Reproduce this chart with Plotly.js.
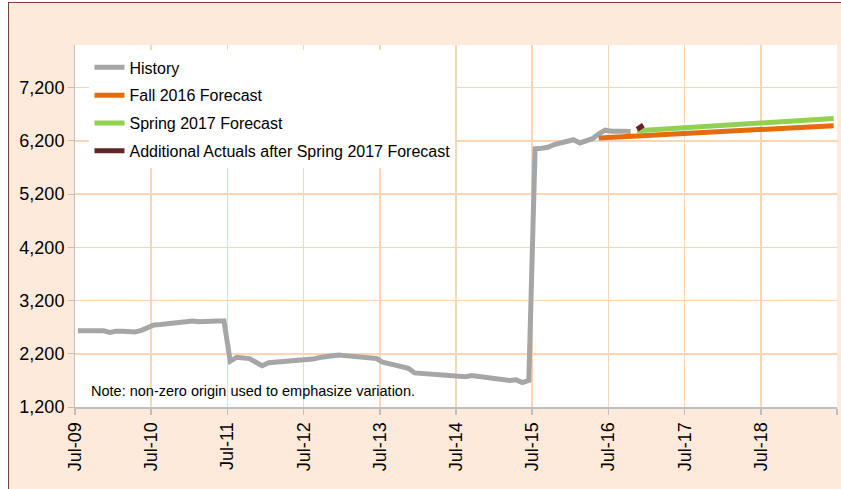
<!DOCTYPE html>
<html>
<head>
<meta charset="utf-8">
<script src="https://cdn.plot.ly/plotly-3.0.1.min.js"></script>
<style>
  html, body { margin: 0; padding: 0; background: #ffffff; width: 841px; height: 489px; overflow: hidden; }
  #frame { position: absolute; left: 8px; top: 2px; width: 840px; height: 494px;
           border-left: 1px solid #7f3b3b; border-top: 1px solid #7f3b3b; background: #FDEADA; }
  #chart { position: absolute; left: 0; top: 0; width: 832px; height: 486px; }
</style>
</head>
<body>
<div id="frame"><div id="chart"></div></div>
<script>
// ---- data (monthly, first value at the start month) ----
const historyStart = [2009, 7];
const historyValues = [
  2630, 2625, 2630, 2635, 2630, 2600, 2625, 2625, 2620, 2610, 2640, 2690,
  2740, 2750, 2760, 2770, 2790, 2805, 2815, 2800, 2810, 2815, 2815, 2815,
  2060, 2135, 2125, 2110, 2040, 1975, 2030, 2040, 2045, 2050, 2060, 2065,
  2075, 2100, 2130, 2150, 2165, 2175, 2165, 2155, 2160, 2150, 2120, 2110,
  2040, 2010, 1990, 1960, 1925, 1840, 1830, 1820, 1810, 1800, 1790, 1790,
  1780, 1770, 1790, 1775, 1760, 1750, 1735, 1725, 1700, 1710, 1660, 1700,
  6050, 6060, 6080, 6130, 6160, 6200, 6220, 6160, 6200, 6240, 6330, 6400,
  6380, 6370, 6380, 6375
];
const fallStart = [2016, 5];
const fallValues = [
  6255, 6261, 6267, 6273, 6280, 6286, 6292, 6298, 6304, 6310, 6316, 6323,
  6329, 6335, 6341, 6347, 6353, 6359, 6366, 6372, 6378, 6384, 6390, 6396,
  6403, 6409, 6415, 6421, 6427, 6433, 6440, 6446, 6452, 6458, 6464, 6471,
  6477, 6485
];
const springStart = [2016, 11];
const springValues = [
  6390, 6397, 6405, 6412, 6420, 6427, 6435, 6442, 6450, 6457, 6465, 6472,
  6480, 6487, 6495, 6502, 6510, 6517, 6525, 6532, 6540, 6547, 6555, 6562,
  6570, 6577, 6585, 6592, 6600, 6607, 6614, 6620
];
const actualsStart = [2016, 11];
const actualsValues = [6415, 6495];

const tickDates = ['2009-07-01','2010-07-01','2011-07-01','2012-07-01','2013-07-01',
  '2014-07-01','2015-07-01','2016-07-01','2017-07-01','2018-07-01','2019-07-01'];
const tickLabels = ['Jul-09','Jul-10','Jul-11','Jul-12','Jul-13','Jul-14','Jul-15',
  'Jul-16','Jul-17','Jul-18',''];
const yTicks = [1200, 2200, 3200, 4200, 5200, 6200, 7200];

function monthDates(start, n) {
  const out = [];
  let y = start[0], m = start[1];
  for (let i = 0; i < n; i++) {
    out.push(y + '-' + String(m).padStart(2, '0') + '-15');
    m++; if (m > 12) { m = 1; y++; }
  }
  return out;
}

const FONT = 'Liberation Sans, Arial, sans-serif';

const traces = [
  { name: 'History', x: monthDates(historyStart, historyValues.length), y: historyValues,
    mode: 'lines', line: { color: '#A6A6A6', width: 5 }, legendgroup: 'a' },
  { name: 'Fall 2016 Forecast', x: monthDates(fallStart, fallValues.length), y: fallValues,
    mode: 'lines', line: { color: '#E46C0A', width: 5 }, legendgroup: 'b' },
  { name: 'Spring 2017 Forecast', x: monthDates(springStart, springValues.length), y: springValues,
    mode: 'lines', line: { color: '#92D050', width: 5 }, legendgroup: 'c' },
  { name: 'Additional Actuals after Spring 2017 Forecast', x: monthDates(actualsStart, actualsValues.length), y: actualsValues,
    mode: 'lines', line: { color: '#632523', width: 5 }, legendgroup: 'd' }
];

const layout = {
  width: 832, height: 486,
  margin: { l: 66, r: 4, t: 42, b: 82 },
  paper_bgcolor: '#FDEADA',
  plot_bgcolor: '#FFFFFF',
  font: { family: FONT, color: '#000000' },
  showlegend: true,
  legend: {
    x: 0.019, y: 0.985, xanchor: 'left', yanchor: 'top',
    bgcolor: '#FFFFFF', borderwidth: 0,
    font: { family: FONT, size: 16, color: '#000000' },
    tracegroupgap: 4, traceorder: 'grouped'
  },
  xaxis: {
    type: 'date',
    range: ['2009-07-01', '2019-07-01'],
    tickmode: 'array', tickvals: tickDates, ticktext: tickLabels,
    tickangle: -90,
    tickfont: { family: FONT, size: 18, color: '#000000' },
    showgrid: true, gridcolor: '#FCD5B4', gridwidth: 1.5,
    showline: true, linecolor: '#BFBFBF', linewidth: 2,
    ticks: 'outside', ticklen: 6, tickcolor: '#BFBFBF', tickwidth: 1.5,
    zeroline: false, fixedrange: true
  },
  yaxis: {
    range: [1200, 8000],
    tickmode: 'array', tickvals: yTicks,
    tickformat: ',d',
    ticksuffix: '\u00a0',
    tickfont: { family: FONT, size: 18, color: '#000000' },
    showgrid: true, gridcolor: '#FCD5B4', gridwidth: 1.5,
    showline: true, linecolor: '#BFBFBF', linewidth: 1,
    ticks: 'outside', ticklen: 6, tickcolor: '#BFBFBF', tickwidth: 1,
    zeroline: false, fixedrange: true
  },
  annotations: [{
    text: 'Note: non-zero origin used to emphasize variation.',
    xref: 'paper', yref: 'paper', x: 0.0184, y: 0.044,
    xanchor: 'left', yanchor: 'middle', showarrow: false,
    font: { family: FONT, size: 14.5, color: '#000000' }
  }]
};

Plotly.newPlot('chart', traces, layout, { displayModeBar: false, staticPlot: true });
</script>
</body>
</html>
